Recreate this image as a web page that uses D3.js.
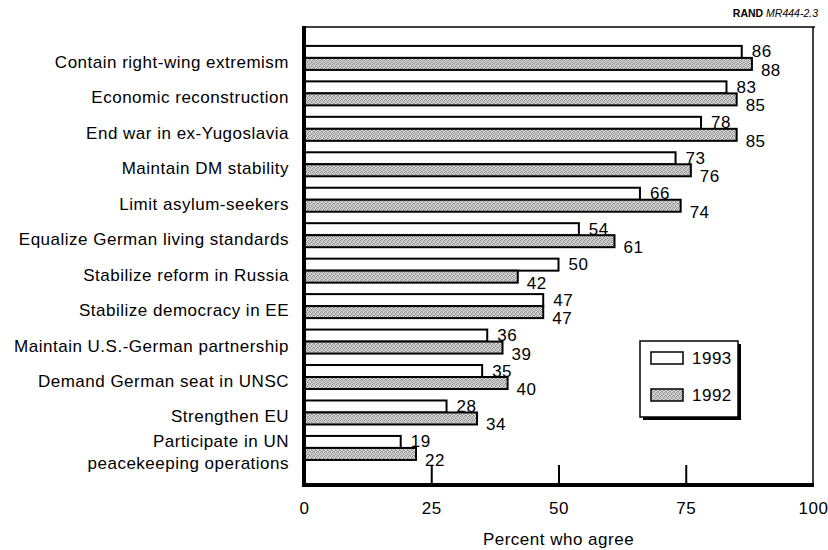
<!DOCTYPE html>
<html><head><meta charset="utf-8">
<script src="https://cdn.jsdelivr.net/npm/d3@7"></script>
<style>body{margin:0;background:#fff}svg{display:block}text{font-family:"Liberation Sans",Arial,Helvetica,sans-serif}.t{font-size:17px;letter-spacing:0.5px}</style>
</head><body><svg id="c" width="828" height="550"></svg>
<script>
const categories = ["Contain right-wing extremism","Economic reconstruction","End war in ex-Yugoslavia","Maintain DM stability","Limit asylum-seekers","Equalize German living standards","Stabilize reform in Russia","Stabilize democracy in EE","Maintain U.S.-German partnership","Demand German seat in UNSC","Strengthen EU","Participate in UN\npeacekeeping operations"];
const values1993 = [86,83,78,73,66,54,50,47,36,35,28,19];
const values1992 = [88,85,85,76,74,61,42,47,39,40,34,22];
const series = ["1993","1992"];
const xTicks = [0,25,50,75,100];

const svg = d3.select("#c");
const defs = svg.append("defs");
const pat = defs.append("pattern").attr("id","stip").attr("patternUnits","userSpaceOnUse").attr("width",4).attr("height",4);
pat.append("rect").attr("width",4).attr("height",4).attr("fill","#dadada");
[[0,0],[2,0],[1,1],[3,2],[0,2],[2,3],[1,3],[3,1]].forEach(([a,b],i)=>
  pat.append("rect").attr("x",a).attr("y",b).attr("width",1).attr("height",1).attr("fill", i%3===0 ? "#8c8c8c" : "#a4a4a4"));

const x = d3.scaleLinear().domain([0,100]).range([304,813]);
const y = d3.scaleBand().domain(categories).range([27,485]).paddingInner(0.323).paddingOuter(0.62).align(0.43);
const sub = d3.scaleBand().domain(series).range([0,y.bandwidth()]);
const fills = {"1993":"#fff","1992":"url(#stip)"};

// frame
svg.append("line").attr("x1",x(0)).attr("x2",x(100)+2).attr("y1",27).attr("y2",27).attr("stroke","#000").attr("stroke-width",1.5);
svg.append("line").attr("x1",x(100)).attr("x2",x(100)).attr("y1",27).attr("y2",485).attr("stroke","#000").attr("stroke-width",1.5);

// bars
const rows = categories.map((c,i)=>({c, v:{"1993":values1993[i],"1992":values1992[i]}}));
const g = svg.append("g");
rows.forEach(r=>{
  series.forEach(s=>{
    g.append("rect").attr("x",x(0)).attr("y",y(r.c)+sub(s))
      .attr("width",x(r.v[s])-x(0)).attr("height",sub.bandwidth())
      .attr("fill",fills[s]).attr("stroke","#000").attr("stroke-width",2);
  });
  const y0 = y(r.c);
  g.append("text").attr("class","t").attr("x",x(r.v["1993"])+10).attr("y",y0+sub("1993")+sub.bandwidth()-0.5)
    .text(r.v["1993"]);
  g.append("text").attr("class","t").attr("x",x(r.v["1992"])+9).attr("y",y0+sub("1992")+sub.bandwidth()+6)
    .text(r.v["1992"]);
  const lines = r.c.split("\n");
  const t = g.append("text").attr("class","t").attr("text-anchor","end");
  const cy = y0 + y.bandwidth()/2;
  const start = cy + 10 - (lines.length-1)*11;
  lines.forEach((l,k)=>t.append("tspan").attr("x",289).attr("y",start+k*22).text(l));
});

// x axis
const ax = svg.append("g").attr("transform","translate(0,485)");
ax.call(d3.axisBottom(x).tickValues(xTicks).tickSize(0).tickPadding(17).tickFormat(d3.format("d")));
ax.select(".domain").remove();
ax.selectAll(".tick text").attr("class","t").attr("font-size",null).attr("font-family","'Liberation Sans',Arial,sans-serif").attr("fill","#000");
ax.selectAll(".tick").filter(d=>d>0&&d<100).append("line").attr("y1",0).attr("y2",-20).attr("stroke","#000").attr("stroke-width",2);
svg.append("line").attr("x1",x(0)-2).attr("x2",x(100)+1).attr("y1",485).attr("y2",485).attr("stroke","#000").attr("stroke-width",4);
svg.append("line").attr("x1",x(0)).attr("x2",x(0)).attr("y1",26).attr("y2",487).attr("stroke","#000").attr("stroke-width",4);

svg.append("text").attr("class","t").attr("x",(x(0)+x(100))/2).attr("y",545).attr("text-anchor","middle").text("Percent who agree");

// legend
const lg = svg.append("g");
lg.append("rect").attr("x",643).attr("y",344).attr("width",98).attr("height",76).attr("fill","#000");
lg.append("rect").attr("x",640).attr("y",341).attr("width",98).attr("height",76).attr("fill","#fff").attr("stroke","#000").attr("stroke-width",1.5);
const ly = d3.scalePoint().domain(series).range([358,395]);
series.forEach(s=>{
  lg.append("rect").attr("x",651).attr("y",ly(s)-6).attr("width",32).attr("height",12).attr("fill",fills[s]).attr("stroke","#000").attr("stroke-width",1.5);
  lg.append("text").attr("class","t").attr("x",692).attr("y",ly(s)+6).text(s);
});

// source note
const src = svg.append("text").attr("x",818).attr("y",17).attr("text-anchor","end").attr("font-size",10.5);
src.append("tspan").attr("font-weight","bold").text("RAND ");
src.append("tspan").attr("font-style","italic").text("MR444-2.3");
</script></body></html>
